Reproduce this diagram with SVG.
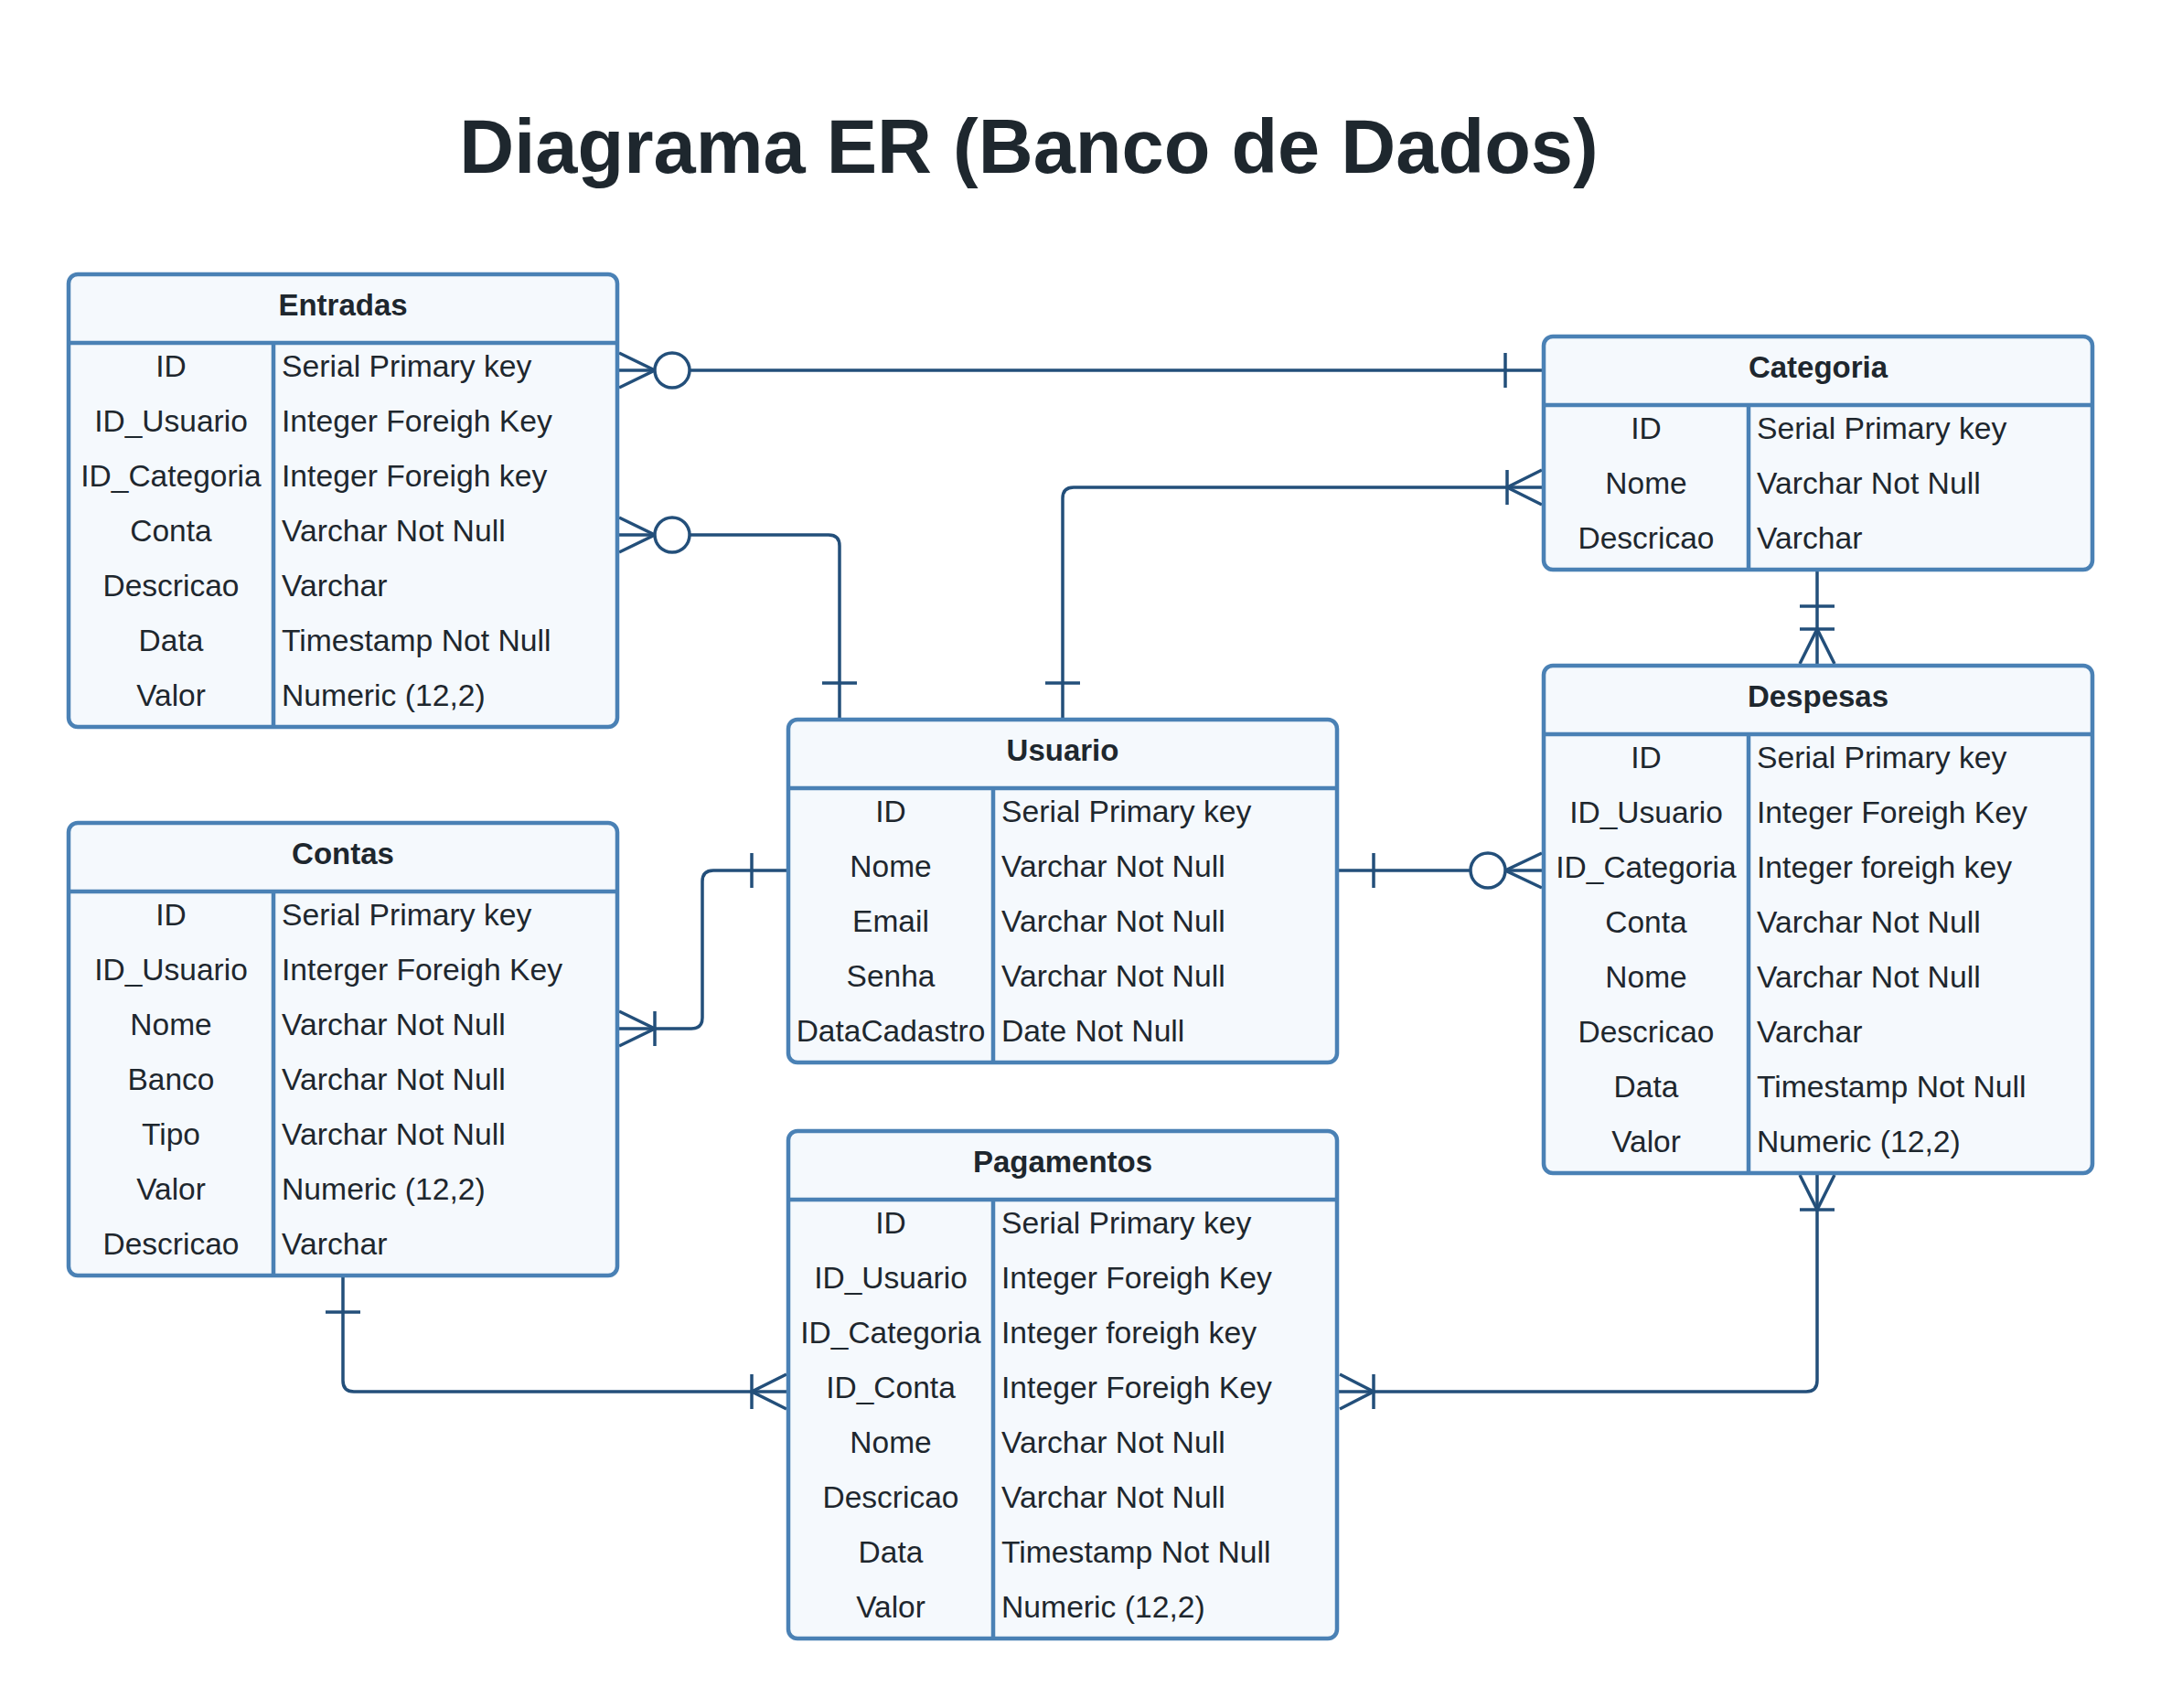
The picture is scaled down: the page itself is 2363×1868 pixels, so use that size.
<svg xmlns="http://www.w3.org/2000/svg" width="2363" height="1868" viewBox="0 0 2363 1868">
<style>
.box{fill:#f5f9fd;stroke:#4a81b5;stroke-width:4.5}
.sep{stroke:#4a81b5;stroke-width:4.5;fill:none}
.hd{font-family:"Liberation Sans",Arial,sans-serif;font-weight:bold;font-size:33px;fill:#1e272e;text-anchor:middle}
.k{font-family:"Liberation Sans",Arial,sans-serif;font-size:33.5px;fill:#1e272e;text-anchor:middle}
.v{font-family:"Liberation Sans",Arial,sans-serif;font-size:33.7px;fill:#1e272e}
.title{font-family:"Liberation Sans",Arial,sans-serif;font-weight:bold;font-size:83px;fill:#1e272e;text-anchor:middle}
.c{fill:none;stroke:#234f7a;stroke-width:3.5;stroke-linecap:butt}
.o{fill:#ffffff;stroke:#234f7a;stroke-width:3.5}
</style>
<rect width="2363" height="1868" fill="#ffffff"/>
<text class="title" x="1125" y="189">Diagrama ER (Banco de Dados)</text>

<g id="connectors">
  <!-- Entradas - Categoria -->
  <path class="c" d="M677,405 H1688"/>
  <path class="c" d="M677,386 L716,405 L677,424"/>
  <circle class="o" cx="735" cy="405" r="19"/>
  <path class="c" d="M1646,386 V424"/>
  <!-- Entradas - Usuario -->
  <path class="c" d="M677,585 H906 Q918,585 918,597 V787"/>
  <path class="c" d="M677,566 L716,585 L677,604"/>
  <circle class="o" cx="735" cy="585" r="19"/>
  <path class="c" d="M899,747 H937"/>
  <!-- Categoria - Usuario -->
  <path class="c" d="M1162,787 V545 Q1162,533 1174,533 H1688"/>
  <path class="c" d="M1143,747 H1181"/>
  <path class="c" d="M1686,514 L1648,533 L1686,552"/>
  <path class="c" d="M1648,514 V552"/>
  <!-- Categoria - Despesas -->
  <path class="c" d="M1987,623 V728"/>
  <path class="c" d="M1968,663 H2006"/>
  <path class="c" d="M1968,688 H2006"/>
  <path class="c" d="M1968,726 L1987,688 L2006,726"/>
  <!-- Usuario - Despesas -->
  <path class="c" d="M1463,952 H1688"/>
  <path class="c" d="M1502,933 V971"/>
  <path class="c" d="M1686,933 L1646,952 L1686,971"/>
  <circle class="o" cx="1627" cy="952" r="19"/>
  <!-- Usuario - Contas -->
  <path class="c" d="M862,952 H780 Q768,952 768,964 V1113 Q768,1125 756,1125 H677"/>
  <path class="c" d="M822,933 V971"/>
  <path class="c" d="M677,1106 L716,1125 L677,1144"/>
  <path class="c" d="M716,1106 V1144"/>
  <!-- Contas - Pagamentos -->
  <path class="c" d="M375,1395 V1510 Q375,1522 387,1522 H862"/>
  <path class="c" d="M356,1435 H394"/>
  <path class="c" d="M860,1503 L822,1522 L860,1541"/>
  <path class="c" d="M822,1503 V1541"/>
  <!-- Despesas - Pagamentos -->
  <path class="c" d="M1463,1522 H1975 Q1987,1522 1987,1510 V1283"/>
  <path class="c" d="M1465,1503 L1502,1522 L1465,1541"/>
  <path class="c" d="M1502,1503 V1541"/>
  <path class="c" d="M1968,1285 L1987,1323 L2006,1285"/>
  <path class="c" d="M1968,1323 H2006"/>
</g>

<g id="entradas" transform="translate(75,300)">
  <rect class="box" x="0" y="0" width="600" height="495" rx="10"/>
  <path class="sep" d="M0,75 H600 M224,75 V495"/>
  <text class="hd" x="300" y="45">Entradas</text>
  <text class="k" x="112" y="112">ID</text><text class="v" x="233" y="112">Serial Primary key</text>
  <text class="k" x="112" y="172">ID_Usuario</text><text class="v" x="233" y="172">Integer Foreigh Key</text>
  <text class="k" x="112" y="232">ID_Categoria</text><text class="v" x="233" y="232">Integer Foreigh key</text>
  <text class="k" x="112" y="292">Conta</text><text class="v" x="233" y="292">Varchar Not Null</text>
  <text class="k" x="112" y="352">Descricao</text><text class="v" x="233" y="352">Varchar</text>
  <text class="k" x="112" y="412">Data</text><text class="v" x="233" y="412">Timestamp Not Null</text>
  <text class="k" x="112" y="472">Valor</text><text class="v" x="233" y="472">Numeric (12,2)</text>
</g>

<g id="categoria" transform="translate(1688,368)">
  <rect class="box" x="0" y="0" width="600" height="255" rx="10"/>
  <path class="sep" d="M0,75 H600 M224,75 V255"/>
  <text class="hd" x="300" y="45">Categoria</text>
  <text class="k" x="112" y="112">ID</text><text class="v" x="233" y="112">Serial Primary key</text>
  <text class="k" x="112" y="172">Nome</text><text class="v" x="233" y="172">Varchar Not Null</text>
  <text class="k" x="112" y="232">Descricao</text><text class="v" x="233" y="232">Varchar</text>
</g>

<g id="despesas" transform="translate(1688,728)">
  <rect class="box" x="0" y="0" width="600" height="555" rx="10"/>
  <path class="sep" d="M0,75 H600 M224,75 V555"/>
  <text class="hd" x="300" y="45">Despesas</text>
  <text class="k" x="112" y="112">ID</text><text class="v" x="233" y="112">Serial Primary key</text>
  <text class="k" x="112" y="172">ID_Usuario</text><text class="v" x="233" y="172">Integer Foreigh Key</text>
  <text class="k" x="112" y="232">ID_Categoria</text><text class="v" x="233" y="232">Integer foreigh key</text>
  <text class="k" x="112" y="292">Conta</text><text class="v" x="233" y="292">Varchar Not Null</text>
  <text class="k" x="112" y="352">Nome</text><text class="v" x="233" y="352">Varchar Not Null</text>
  <text class="k" x="112" y="412">Descricao</text><text class="v" x="233" y="412">Varchar</text>
  <text class="k" x="112" y="472">Data</text><text class="v" x="233" y="472">Timestamp Not Null</text>
  <text class="k" x="112" y="532">Valor</text><text class="v" x="233" y="532">Numeric (12,2)</text>
</g>

<g id="usuario" transform="translate(862,787)">
  <rect class="box" x="0" y="0" width="600" height="375" rx="10"/>
  <path class="sep" d="M0,75 H600 M224,75 V375"/>
  <text class="hd" x="300" y="45">Usuario</text>
  <text class="k" x="112" y="112">ID</text><text class="v" x="233" y="112">Serial Primary key</text>
  <text class="k" x="112" y="172">Nome</text><text class="v" x="233" y="172">Varchar Not Null</text>
  <text class="k" x="112" y="232">Email</text><text class="v" x="233" y="232">Varchar Not Null</text>
  <text class="k" x="112" y="292">Senha</text><text class="v" x="233" y="292">Varchar Not Null</text>
  <text class="k" x="112" y="352">DataCadastro</text><text class="v" x="233" y="352">Date Not Null</text>
</g>

<g id="contas" transform="translate(75,900)">
  <rect class="box" x="0" y="0" width="600" height="495" rx="10"/>
  <path class="sep" d="M0,75 H600 M224,75 V495"/>
  <text class="hd" x="300" y="45">Contas</text>
  <text class="k" x="112" y="112">ID</text><text class="v" x="233" y="112">Serial Primary key</text>
  <text class="k" x="112" y="172">ID_Usuario</text><text class="v" x="233" y="172">Interger Foreigh Key</text>
  <text class="k" x="112" y="232">Nome</text><text class="v" x="233" y="232">Varchar Not Null</text>
  <text class="k" x="112" y="292">Banco</text><text class="v" x="233" y="292">Varchar Not Null</text>
  <text class="k" x="112" y="352">Tipo</text><text class="v" x="233" y="352">Varchar Not Null</text>
  <text class="k" x="112" y="412">Valor</text><text class="v" x="233" y="412">Numeric (12,2)</text>
  <text class="k" x="112" y="472">Descricao</text><text class="v" x="233" y="472">Varchar</text>
</g>

<g id="pagamentos" transform="translate(862,1237)">
  <rect class="box" x="0" y="0" width="600" height="555" rx="10"/>
  <path class="sep" d="M0,75 H600 M224,75 V555"/>
  <text class="hd" x="300" y="45">Pagamentos</text>
  <text class="k" x="112" y="112">ID</text><text class="v" x="233" y="112">Serial Primary key</text>
  <text class="k" x="112" y="172">ID_Usuario</text><text class="v" x="233" y="172">Integer Foreigh Key</text>
  <text class="k" x="112" y="232">ID_Categoria</text><text class="v" x="233" y="232">Integer foreigh key</text>
  <text class="k" x="112" y="292">ID_Conta</text><text class="v" x="233" y="292">Integer Foreigh Key</text>
  <text class="k" x="112" y="352">Nome</text><text class="v" x="233" y="352">Varchar Not Null</text>
  <text class="k" x="112" y="412">Descricao</text><text class="v" x="233" y="412">Varchar Not Null</text>
  <text class="k" x="112" y="472">Data</text><text class="v" x="233" y="472">Timestamp Not Null</text>
  <text class="k" x="112" y="532">Valor</text><text class="v" x="233" y="532">Numeric (12,2)</text>
</g>
</svg>
